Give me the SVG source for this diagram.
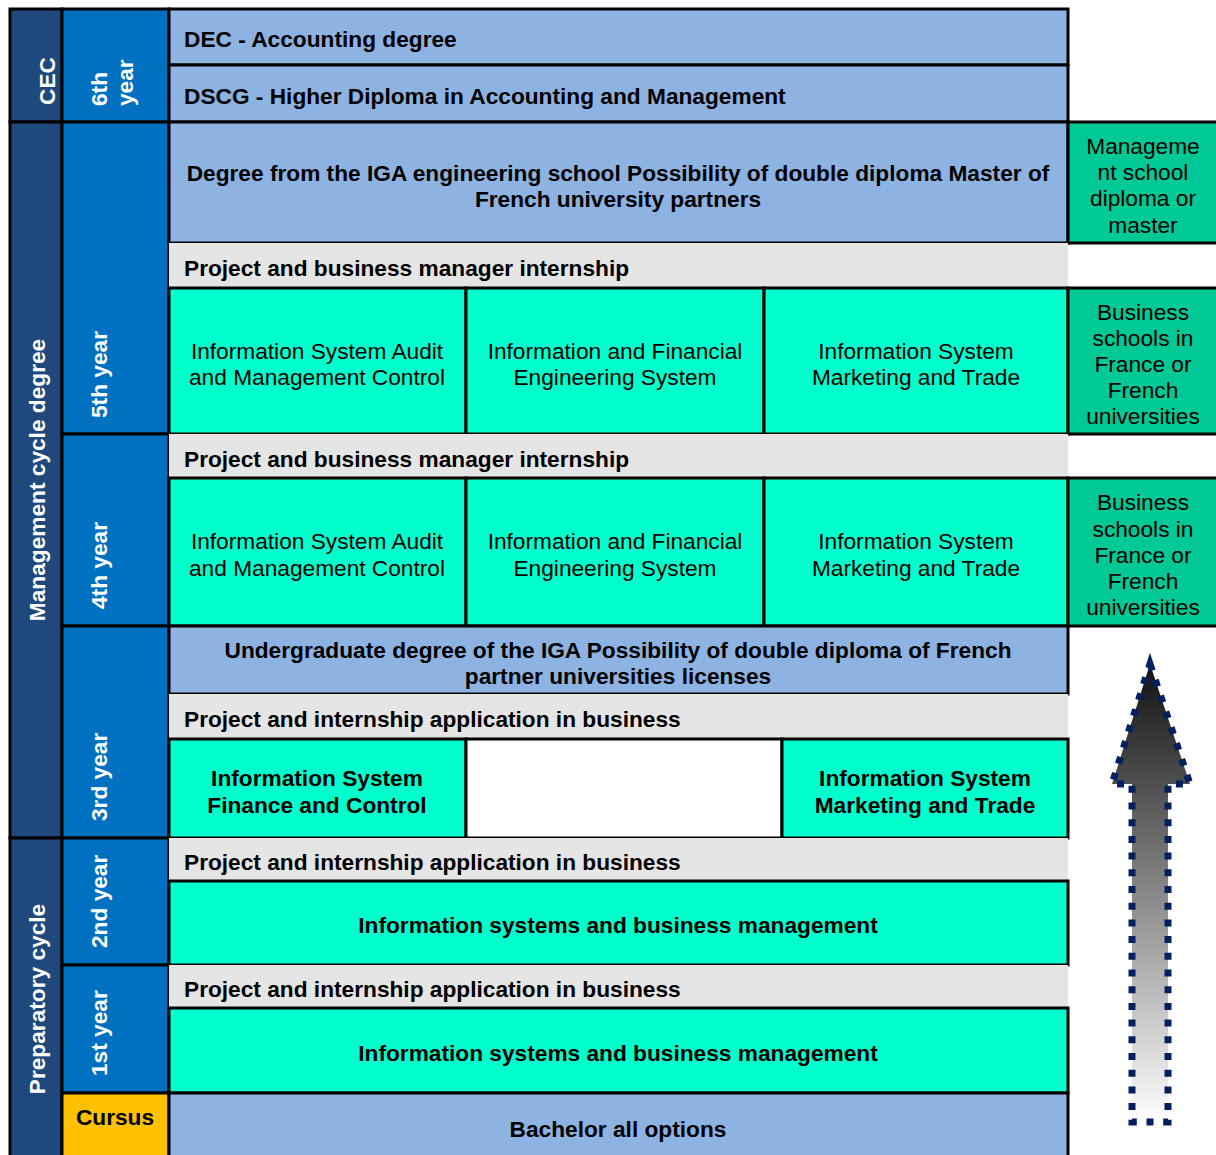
<svg xmlns="http://www.w3.org/2000/svg" width="1216" height="1155" viewBox="0 0 1216 1155">
<style>
.c{stroke:#000;stroke-width:3}
.navy{fill:#1F497D}
.blue{fill:#0070C0}
.lb{fill:#8DB3E2}
.aq{fill:#00FFCC}
.gr{fill:#00C996}
.gy{fill:#E5E5E5}
.yl{fill:#FFC000}
.wh{fill:#FFFFFF}
text{font-family:"Liberation Sans",Arial,sans-serif;font-size:22.7px;fill:#000}
.b{font-weight:bold}
.w{fill:#FFFFFF;font-weight:bold}
.m{text-anchor:middle}
</style>
<defs>
<linearGradient id="ag" x1="0" y1="0" x2="0" y2="1">
<stop offset="0" stop-color="#111111"/>
<stop offset="1" stop-color="#FFFFFF"/>
</linearGradient>
</defs>
<rect width="1216" height="1155" fill="#FFFFFF"/>

<g id="cec"><rect class="c navy" x="10" y="9" width="52" height="113"/><text class="w" transform="translate(55,105) rotate(-90)">CEC</text></g>
<g id="mgmt-cycle"><rect class="c navy" x="10" y="122" width="52" height="716"/><text class="w m" transform="translate(45,480) rotate(-90)">Management cycle degree</text></g>
<g id="prep-cycle"><rect class="c navy" x="10" y="838" width="52" height="330"/><text class="w m" transform="translate(45,999) rotate(-90)">Preparatory cycle</text></g>

<g id="y6"><rect class="c blue" x="62" y="9" width="107" height="113"/><text class="w" transform="translate(107,106) rotate(-90)">6th</text><text class="w" transform="translate(133,106) rotate(-90)">year</text></g>
<g id="y5"><rect class="c blue" x="62" y="122" width="107" height="312"/><text class="w" transform="translate(107,418) rotate(-90)">5th year</text></g>
<g id="y4"><rect class="c blue" x="62" y="434" width="107" height="192"/><text class="w" transform="translate(107,609) rotate(-90)">4th year</text></g>
<g id="y3"><rect class="c blue" x="62" y="626" width="107" height="212"/><text class="w" transform="translate(107,821) rotate(-90)">3rd year</text></g>
<g id="y2"><rect class="c blue" x="62" y="838" width="107" height="127"/><text class="w" transform="translate(107,948) rotate(-90)">2nd year</text></g>
<g id="y1"><rect class="c blue" x="62" y="965" width="107" height="128"/><text class="w" transform="translate(107,1076) rotate(-90)">1st year</text></g>
<g id="cursus"><rect class="c yl" x="62" y="1093" width="107" height="75"/><text class="b m" x="115" y="1125">Cursus</text></g>

<g id="dec"><rect class="c lb" x="169" y="9" width="899" height="56"/><text class="b" x="184" y="47">DEC - Accounting degree</text></g>
<g id="dscg"><rect class="c lb" x="169" y="65" width="899" height="57"/><text class="b" x="184" y="104">DSCG - Higher Diploma in Accounting and Management</text></g>
<g id="iga"><rect class="c lb" x="169" y="122" width="899" height="121"/><text class="b m" x="618" y="181">Degree from the IGA engineering school Possibility of double diploma Master of</text><text class="b m" x="618" y="207">French university partners</text></g>
<g id="mgmt-school"><rect class="c gr" x="1068" y="122" width="160" height="121"/><text class="m" x="1143" y="154">Manageme</text><text class="m" x="1143" y="180">nt school</text><text class="m" x="1143" y="206">diploma or</text><text class="m" x="1143" y="233">master</text></g>

<g id="intern5"><rect class="gy" x="169" y="243" width="899" height="45"/><text class="b" x="184" y="276">Project and business manager internship</text></g>
<g id="y5-audit"><rect class="c aq" x="169" y="288" width="297" height="146"/><text class="m" x="317" y="359">Information System Audit</text><text class="m" x="317" y="385">and Management Control</text></g>
<g id="y5-fin"><rect class="c aq" x="466" y="288" width="298" height="146"/><text class="m" x="615" y="359">Information and Financial</text><text class="m" x="615" y="385">Engineering System</text></g>
<g id="y5-mkt"><rect class="c aq" x="764" y="288" width="304" height="146"/><text class="m" x="916" y="359">Information System</text><text class="m" x="916" y="385">Marketing and Trade</text></g>
<g id="y5-biz"><rect class="c gr" x="1068" y="288" width="160" height="146"/><text class="m" x="1143" y="320">Business</text><text class="m" x="1143" y="346">schools in</text><text class="m" x="1143" y="372">France or</text><text class="m" x="1143" y="398">French</text><text class="m" x="1143" y="424">universities</text></g>

<g id="intern4"><rect class="gy" x="169" y="434" width="899" height="44"/><text class="b" x="184" y="467">Project and business manager internship</text></g>
<g id="y4-audit"><rect class="c aq" x="169" y="478" width="297" height="148"/><text class="m" x="317" y="549">Information System Audit</text><text class="m" x="317" y="576">and Management Control</text></g>
<g id="y4-fin"><rect class="c aq" x="466" y="478" width="298" height="148"/><text class="m" x="615" y="549">Information and Financial</text><text class="m" x="615" y="576">Engineering System</text></g>
<g id="y4-mkt"><rect class="c aq" x="764" y="478" width="304" height="148"/><text class="m" x="916" y="549">Information System</text><text class="m" x="916" y="576">Marketing and Trade</text></g>
<g id="y4-biz"><rect class="c gr" x="1068" y="478" width="160" height="148"/><text class="m" x="1143" y="510">Business</text><text class="m" x="1143" y="537">schools in</text><text class="m" x="1143" y="563">France or</text><text class="m" x="1143" y="589">French</text><text class="m" x="1143" y="615">universities</text></g>

<g id="undergrad"><rect class="c lb" x="169" y="626" width="899" height="68"/><text class="b m" x="618" y="658">Undergraduate degree of the IGA Possibility of double diploma of French</text><text class="b m" x="618" y="684">partner universities licenses</text></g>
<g id="intern3"><rect class="gy" x="169" y="694" width="899" height="45"/><text class="b" x="184" y="727">Project and internship application in business</text></g>
<g id="y3-fin"><rect class="c aq" x="169" y="739" width="297" height="99"/><text class="b m" x="317" y="786">Information System</text><text class="b m" x="317" y="813">Finance and Control</text></g>
<g id="y3-empty"><rect class="c wh" x="466" y="739" width="316" height="99"/></g>
<g id="y3-mkt"><rect class="c aq" x="782" y="739" width="286" height="99"/><text class="b m" x="925" y="786">Information System</text><text class="b m" x="925" y="813">Marketing and Trade</text></g>

<g id="intern2"><rect class="gy" x="169" y="838" width="899" height="43"/><text class="b" x="184" y="870">Project and internship application in business</text></g>
<g id="y2-info"><rect class="c aq" x="169" y="881" width="899" height="84"/><text class="b m" x="618" y="933">Information systems and business management</text></g>
<g id="intern1"><rect class="gy" x="169" y="965" width="899" height="43"/><text class="b" x="184" y="997">Project and internship application in business</text></g>
<g id="y1-info"><rect class="c aq" x="169" y="1008" width="899" height="85"/><text class="b m" x="618" y="1061">Information systems and business management</text></g>
<g id="bachelor"><rect class="c lb" x="169" y="1093" width="899" height="75"/><text class="b m" x="618" y="1137">Bachelor all options</text></g>

<g id="connectors">
<g id="arrow"><polygon points="1150,664 1190,784 1168,784 1168,1122 1132,1122 1132,784 1112,784" fill="url(#ag)" stroke="#002060" stroke-width="7" stroke-dasharray="7 9.7"/></g>
</g>
</svg>
